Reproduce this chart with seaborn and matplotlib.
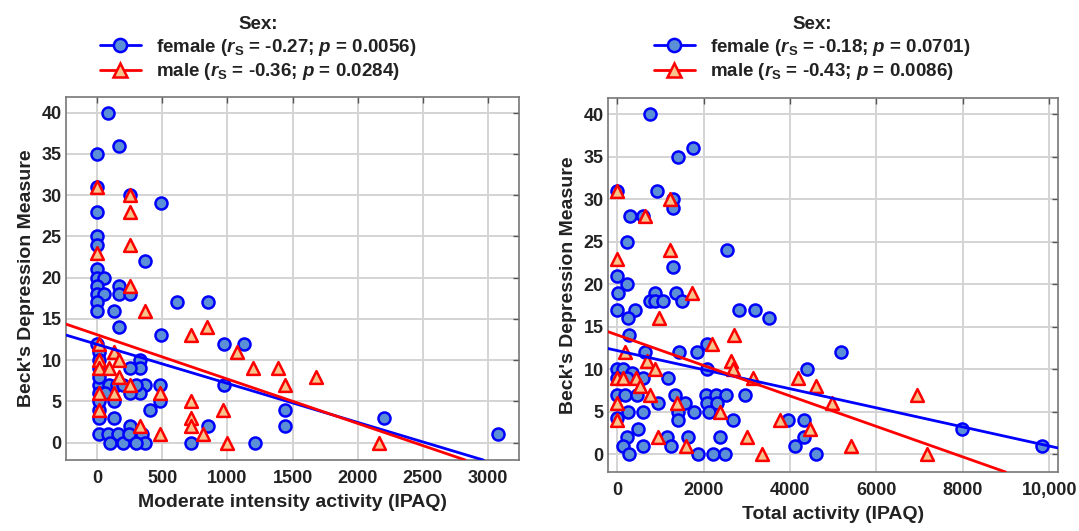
import matplotlib
matplotlib.use("Agg")
import matplotlib.pyplot as plt
from matplotlib.lines import Line2D
import seaborn as sns
import pandas as pd

# ---------------- data ----------------
mod_f_x = [85,169,0,0,253,489,0,0,0,363,0,0,55,0,0,55,0,0,169,169,253,130,612,847,169,489,0,970,1129,970,1439,1439,1208,847,720,2204,3075,
           10,10,10,330,330,253,10,484,369,10,330,253,125,484,407,10,10,125,253,10,80,163,343,100,200,369,10,10,90,150,60,200,300,240,300]
mod_f_y = [40,36,35,31,30,29,28,25,24,22,21,20,20,19,18,18,17,16,19,18,18,16,17,17,14,13,12,12,12,7,4,2,0,2,0,3,1,
           11,10,9,10,9,9,7,7,7,8,6,6,5,5,4,4,3,3,2,1,1,1,1,0,0,0,6,5,7,7,6,7,7,1,0]
mod_m_x = [0,253,253,253,0,253,363,720,842,10,125,169,10,10,87,169,253,10,125,484,10,330,484,1073,1200,1390,720,965,720,720,812,996,1439,1680,2161]
mod_m_y = [31,30,28,24,23,19,16,13,14,12,11,10,10,9,9,8,7,6,6,6,4,2,1,11,9,9,5,4,3,2,1,0,7,8,0]

tot_f_x = [763,1765,1418,8,917,1302,1287,300,609,239,2551,1287,8,239,31,879,1364,763,879,1056,1495,8,416,262,2828,3191,3507,285,647,1441,1842,2088,5180,2088,4386,
           0,146,339,609,1187,0,180,455,956,1341,1572,2065,2296,2527,2960,2088,2320,609,262,1418,1788,2119,2690,1418,3961,4324,0,493,223,1164,1649,2382,4324,
           146,609,1241,4116,285,1880,2227,2497,4601,7969,9819,8,239]
tot_f_y = [40,36,35,31,31,30,29,28,28,25,24,22,21,20,19,19,19,18,18,18,18,17,17,16,17,17,16,14,12,12,12,13,12,10,10,
           10,10,9.5,9,9,7,7,7,6,7,6,7,7,7,7,6,6,5,5,5,5,5,4,4,4,4,4.3,3,2,2,2,2,2,
           1,1,1,1,0,0,0,0,0,3,1,9,9]
tot_m_x = [8,1225,647,1225,8,1726,979,185,686,879,0,146,439,532,763,0,1380,0,956,1595,2189,2705,2628,2690,3152,2382,2998,3345,3769,4193,4601,4964,4462,6929,5403,7161]
tot_m_y = [31,30,28,24,23,19,16,12,11,10,9,9,9,8,7,6,6,4,2,1,13,14,11,10,9,5,2,0,4,9,8,6,3,7,1,0]

# fitted lines (intercept, slope): [female, male]
mod_intercept = [11.91, 13.08]
mod_slope = [-0.004724, -0.00537]
tot_intercept = [12.19, 14.03]
tot_slope = [-0.001124, -0.001795]

mod_labels = [r"female ($\mathit{r}_\mathrm{S}$ = -0.27; $\mathit{p}$ = 0.0056)",
              r"male ($\mathit{r}_\mathrm{S}$ = -0.36; $\mathit{p}$ = 0.0284)"]
tot_labels = [r"female ($\mathit{r}_\mathrm{S}$ = -0.18; $\mathit{p}$ = 0.0701)",
              r"male ($\mathit{r}_\mathrm{S}$ = -0.43; $\mathit{p}$ = 0.0086)"]

mod_xticks = [0, 500, 1000, 1500, 2000, 2500, 3000]
tot_xticks = [0, 2000, 4000, 6000, 8000, 10000]
tot_xticklabels = ["0", "2000", "4000", "6000", "8000", "10,000"]
yticks = [0, 5, 10, 15, 20, 25, 30, 35, 40]

# ---------------- style ----------------
sns.set_theme(style="white")
plt.rcParams['font.family'] = ['Liberation Sans', 'DejaVu Sans']
plt.rcParams['font.weight'] = 'bold'
plt.rcParams['mathtext.fontset'] = 'custom'
plt.rcParams['mathtext.rm'] = 'Liberation Sans:bold'
plt.rcParams['mathtext.it'] = 'Liberation Sans:italic:bold'
plt.rcParams['mathtext.bf'] = 'Liberation Sans:bold'

TICK_FS = 13
LAB_FS = 14
LEG_FS = 13.5
blue_edge, blue_face = '#0000ff', '#5b8fd6'
red_edge, red_face = '#ff0000', '#f7c48c'
txt = '#222222'

fig = plt.figure(figsize=(10.79, 5.31), dpi=100)
axL = fig.add_axes([0.0612, 0.1337, 0.4198, 0.6836])
axR = fig.add_axes([0.5635, 0.1111, 0.4171, 0.7043])


def panel(ax, fx, fy, mx, my, icpt, slope, xlim, xticks, xticklabels, xlabel, labels, legx):
    df_f = pd.DataFrame({"x": fx, "y": fy})
    df_m = pd.DataFrame({"x": mx, "y": my})
    sns.scatterplot(data=df_f, x="x", y="y", ax=ax, marker='o', s=75,
                    color=blue_face, edgecolor=blue_edge, linewidth=1.8, zorder=3)
    sns.scatterplot(data=df_m, x="x", y="y", ax=ax, marker='^', s=85,
                    color=red_face, edgecolor=red_edge, linewidth=1.8, zorder=4)
    ax.axline((0, icpt[0]), slope=slope[0], color=blue_edge, lw=2, zorder=5)
    ax.axline((0, icpt[1]), slope=slope[1], color=red_edge, lw=2, zorder=6)
    ax.set_xlim(*xlim)
    ax.set_ylim(-2.1, 41.9)
    ax.set_xticks(xticks)
    ax.set_xticklabels(xticklabels)
    ax.set_yticks(yticks)
    ax.grid(True, color='#d4d4d4', lw=1.4)
    ax.set_axisbelow(True)
    ax.tick_params(direction='in', length=4, width=1, color='#555555', top=True, right=True,
                   labelsize=TICK_FS)
    ax.tick_params(axis='x', pad=7)
    ax.tick_params(axis='y', pad=3)
    for lab in ax.get_xticklabels() + ax.get_yticklabels():
        lab.set_fontweight('bold')
        lab.set_color(txt)
    for sp in ax.spines.values():
        sp.set_color('#777777')
        sp.set_linewidth(1.2)
    ax.set_xlabel(xlabel, fontsize=LAB_FS, fontweight='bold', labelpad=5, color=txt)
    ax.set_ylabel("Beck's Depression Measure", fontsize=LAB_FS, fontweight='bold', labelpad=5, color=txt)
    handles = [Line2D([], [], color=blue_edge, lw=2, marker='o', markersize=9.5,
                      markerfacecolor=blue_face, markeredgecolor=blue_edge, markeredgewidth=1.8),
               Line2D([], [], color=red_edge, lw=2, marker='^', markersize=9.5,
                      markerfacecolor=red_face, markeredgecolor=red_edge, markeredgewidth=1.8)]
    leg = fig.legend(handles, labels, title="Sex:", loc='upper center',
                     bbox_to_anchor=(legx, 1.0), frameon=False, fontsize=LEG_FS,
                     title_fontproperties={'weight': 'bold', 'size': LEG_FS},
                     handlelength=2.2, labelspacing=0.2, borderpad=0.35, handletextpad=0.8)
    for t in leg.get_texts():
        t.set_color(txt)
    leg.get_title().set_color(txt)


panel(axL, mod_f_x, mod_f_y, mod_m_x, mod_m_y, mod_intercept, mod_slope, (-240, 3240),
      mod_xticks, [str(v) for v in mod_xticks], "Moderate intensity activity (IPAQ)", mod_labels, 258 / 1079)
panel(axR, tot_f_x, tot_f_y, tot_m_x, tot_m_y, tot_intercept, tot_slope, (-210, 10200),
      tot_xticks, tot_xticklabels, "Total activity (IPAQ)", tot_labels, 812 / 1079)

fig.savefig("out.png", dpi=100, facecolor='white')
